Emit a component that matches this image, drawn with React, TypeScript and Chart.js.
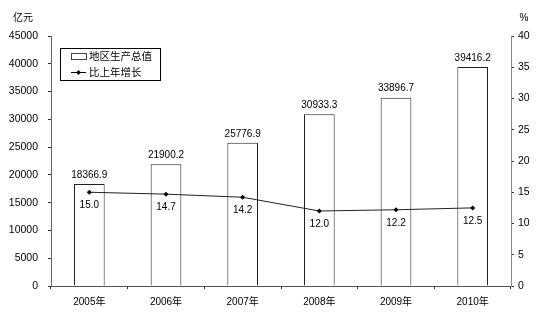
import React, { useEffect, useRef } from "react";
import { Chart, registerables } from "chart.js";

Chart.register(...registerables);

const categories = ["2005年", "2006年", "2007年", "2008年", "2009年", "2010年"];
const gdpValues = [18366.9, 21900.2, 25776.9, 30933.3, 33896.7, 39416.2];
const growthValues = [15.0, 14.7, 14.2, 12.0, 12.2, 12.5];
const gdpLabel = "地区生产总值";
const growthLabel = "比上年增长";
const leftUnit = "亿元";
const rightUnit = "%";

const FONT = '"Liberation Sans", "Noto Sans CJK SC", Arial, sans-serif';

const overlayPlugin = {
  id: "overlay",
  afterDatasetsDraw(chart: any) {
    const ctx = chart.ctx;
    ctx.save();
    ctx.fillStyle = "#000";
    ctx.font = `10px ${FONT}`;
    ctx.textAlign = "center";
    ctx.textBaseline = "middle";
    const barMeta = chart.getDatasetMeta(0);
    barMeta.data.forEach((el: any, i: number) => {
      ctx.fillText(gdpValues[i].toFixed(1), el.x, el.y - 9);
    });
    const lineMeta = chart.getDatasetMeta(1);
    lineMeta.data.forEach((el: any, i: number) => {
      ctx.fillText(growthValues[i].toFixed(1), el.x, el.y + 13);
    });

    // unit labels
    ctx.font = `10px ${FONT}`;
    ctx.fillText(leftUnit, 23, 18);
    ctx.fillText(rightUnit, 524, 18);

    // legend
    const lx = 60.5, ly = 48.5, lw = 100, lh = 32;
    ctx.fillStyle = "#fff";
    ctx.fillRect(lx, ly, lw, lh);
    ctx.strokeStyle = "#000";
    ctx.lineWidth = 1;
    ctx.strokeRect(lx, ly, lw, lh);
    ctx.strokeStyle = "#444";
    ctx.strokeRect(71.5, 53.5, 15, 6);
    ctx.strokeStyle = "#000";
    ctx.beginPath();
    ctx.moveTo(71, 72.5);
    ctx.lineTo(86, 72.5);
    ctx.stroke();
    ctx.fillStyle = "#000";
    ctx.beginPath();
    ctx.moveTo(78.5, 70);
    ctx.lineTo(81, 72.5);
    ctx.lineTo(78.5, 75);
    ctx.lineTo(76, 72.5);
    ctx.closePath();
    ctx.fill();
    ctx.font = `10.5px ${FONT}`;
    ctx.textAlign = "left";
    ctx.fillText(gdpLabel, 89, 57);
    ctx.fillText(growthLabel, 89, 73);
    ctx.restore();
  },
};

export default function App() {
  const ref = useRef<HTMLCanvasElement | null>(null);
  useEffect(() => {
    if (!ref.current) return;
    const chart = new Chart(ref.current, {
      type: "bar",
      data: {
        labels: categories,
        datasets: [
          {
            type: "bar",
            label: gdpLabel,
            data: gdpValues,
            backgroundColor: "#fff",
            borderColor: "#222",
            borderWidth: 1,
            barPercentage: 0.4,
            categoryPercentage: 1,
            yAxisID: "y",
            order: 2,
          },
          {
            type: "line",
            label: growthLabel,
            data: growthValues,
            borderColor: "#222",
            borderWidth: 1,
            pointStyle: "rectRot",
            pointRadius: 2.5,
            pointBackgroundColor: "#000",
            pointBorderColor: "#000",
            pointBorderWidth: 0,
            yAxisID: "y1",
            order: 1,
          } as any,
        ],
      },
      options: {
        responsive: false,
        animation: false,
        layout: { padding: { top: 36, left: 0, right: 0, bottom: 0 } },
        plugins: {
          legend: { display: false },
          tooltip: { enabled: false },
        },
        scales: {
          x: {
            offset: true,
            grid: {
              offset: true,
              drawOnChartArea: false,
              drawTicks: true,
              tickLength: 3,
              color: "#333",
            },
            border: { display: true, color: "#555" },
            ticks: { color: "#000", font: { size: 10, family: FONT }, padding: 7, maxRotation: 0 },
            afterFit: (s: any) => { s.height = 44; },
          },
          y: {
            position: "left",
            min: 0,
            max: 45000,
            grid: { drawOnChartArea: false, drawTicks: true, tickLength: 3, color: "#333" },
            border: { display: true, color: "#666" },
            ticks: {
              stepSize: 5000,
              color: "#000",
              font: { size: 10.5, family: FONT },
              padding: 10,
              callback: (v: any) => String(v),
            },
            afterFit: (s: any) => { s.width = 51; },
          },
          y1: {
            position: "right",
            min: 0,
            max: 40,
            grid: { drawOnChartArea: false, drawTicks: true, tickLength: 3, color: "#333" },
            border: { display: true, color: "#888" },
            ticks: {
              stepSize: 5,
              color: "#000",
              font: { size: 10.5, family: FONT },
              padding: 4,
              callback: (v: any) => String(v),
            },
            afterFit: (s: any) => { s.width = 27; },
          },
        },
      },
      plugins: [overlayPlugin],
    });
    return () => chart.destroy();
  }, []);
  return (
    <div style={{ position: "fixed", left: 0, top: 0, width: 538, height: 330, background: "#fff" }}>
      <canvas ref={ref} width={538} height={330} style={{ width: 538, height: 330 }} />
    </div>
  );
}
